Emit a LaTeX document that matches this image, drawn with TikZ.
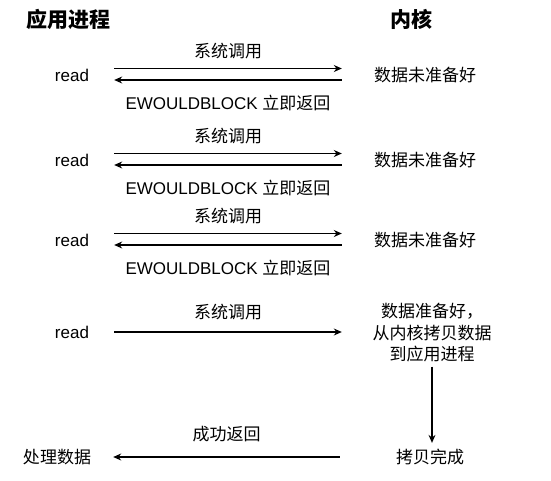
\documentclass[tikz,border=0pt]{standalone}
\usepackage{fontspec}
\setmainfont{Liberation Sans}
\newfontfamily\cjk{Noto Sans CJK SC}
\usepackage{tikz}
\usetikzlibrary{
arrows.meta,
positioning,
calc
}

\begin{document}
\begin{tikzpicture}[
  x=1pt, y=-1pt,
  >={Stealth[length=8pt, width=7pt]},
  title/.style={font=\cjk\bfseries\fontsize{21}{24}\selectfont, inner sep=0pt},
  proc/.style={font=\fontsize{17}{20}\selectfont, minimum width=84pt, inner sep=0pt},
  kern/.style={font=\cjk\fontsize{17}{20}\selectfont, minimum width=166pt, inner sep=0pt},
  lbl/.style={font=\fontsize{17}{20}\selectfont, inner sep=0pt},
  call/.style={->, line width=1.1pt}
]
\useasboundingbox (0,0) rectangle (551,480);

% Nodes
\node[title] (app) at (68,19) {应用进程};
\node[title] (kernel) at (411,19) {内核};
\node[proc] (read1) at (72,75) {read};
\node[kern] (busy1) at (425,75) {数据未准备好};
\node[proc] (read2) at (72,160) {read};
\node[kern] (busy2) at (425,160) {数据未准备好};
\node[proc] (read3) at (72,240) {read};
\node[kern] (busy3) at (425,240) {数据未准备好};
\node[proc] (read4) at (72,332) {read};
\node[kern, minimum width=180pt, align=center, font=\cjk\fontsize{17}{21.5}\selectfont] (copy) at (432,333) {数据准备好，\\从内核拷贝数据\\到应用进程};
\node[kern, minimum width=180pt] (done) at (430,457) {拷贝完成};
\node[proc, minimum width=112pt] (handle) at (57,457) {\cjk 处理数据};

% Edges
\draw[call] ([yshift=6.5pt]read1.east) -- node[lbl, above=9pt]{\cjk 系统调用} ([yshift=6.5pt]busy1.west);
\draw[call] ([yshift=-5pt]busy1.west) -- node[lbl, below=15pt]{EWOULDBLOCK {\cjk 立即返回}} ([yshift=-5pt]read1.east);
\draw[call] ([yshift=6.5pt]read2.east) -- node[lbl, above=9pt]{\cjk 系统调用} ([yshift=6.5pt]busy2.west);
\draw[call] ([yshift=-5pt]busy2.west) -- node[lbl, below=15pt]{EWOULDBLOCK {\cjk 立即返回}} ([yshift=-5pt]read2.east);
\draw[call] ([yshift=6.5pt]read3.east) -- node[lbl, above=9pt]{\cjk 系统调用} ([yshift=6.5pt]busy3.west);
\draw[call] ([yshift=-5pt]busy3.west) -- node[lbl, below=15pt]{EWOULDBLOCK {\cjk 立即返回}} ([yshift=-5pt]read3.east);
\draw[call] (read4.east) -- node[lbl, above=12pt]{\cjk 系统调用} (read4.east -| copy.west);
\draw[call, shorten <=4pt, shorten >=6pt] (copy.south) -- (copy.south |- done.north);
\draw[call] (done.west) -- node[lbl, above=14pt]{\cjk 成功返回} (handle.east);

\end{tikzpicture}
\end{document}
